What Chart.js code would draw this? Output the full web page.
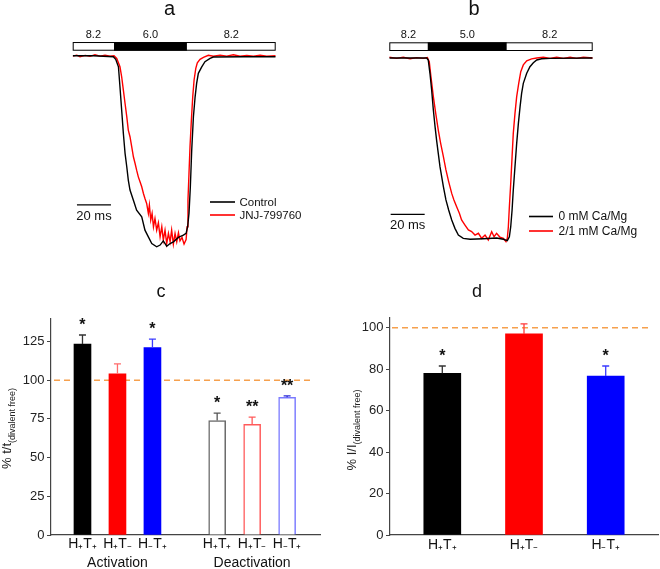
<!DOCTYPE html>
<html>
<head>
<meta charset="utf-8">
<script src="https://cdn.jsdelivr.net/npm/chart.js@4.4.1/dist/chart.umd.min.js"></script>
<style>
html, body { margin: 0; padding: 0; background: #fff; }
body { width: 660px; height: 569px; position: relative; overflow: hidden; }
canvas { position: absolute; }
</style>
</head>
<body>
<canvas id="pa" width="330" height="262" style="left:0;top:0;width:330px;height:262px"></canvas>
<canvas id="pb" width="330" height="262" style="left:330px;top:0;width:330px;height:262px"></canvas>
<canvas id="pc" width="330" height="299" style="left:0;top:270px;width:330px;height:299px"></canvas>
<canvas id="pd" width="330" height="299" style="left:330px;top:270px;width:330px;height:299px"></canvas>
<script>
// ================= DATA =================
// Panel a : pH 8.2 -> 6.0 -> 8.2 (time in ms, current in % of peak)
const ctlTimeA = [0, 12.2, 23.9, 25.3, 26.9, 27.8, 28.8, 29.8, 30.8, 31.8, 32.7, 33.7, 35.7, 37.6, 40.6, 42.5, 44.5, 46.5, 49.4, 51.4, 53.3, 55.3, 57.3, 59.2, 62.2, 65.1, 66.7, 67.6, 68.4, 69.2, 70.0, 71.0, 72.0, 72.9, 73.9, 75.9, 77.8, 80.8, 82.7, 100.4, 119.4];
const ctlCurA  = [0, 0, -0.5, -1.9, -5.8, -16.2, -28.4, -40.7, -51.1, -58.1, -65.1, -70.3, -75.6, -80.8, -84.3, -91.3, -94.8, -98.3, -100, -99.1, -96.9, -99.7, -98.3, -97.4, -95.1, -93.9, -93.0, -89.5, -82.5, -68.6, -49.4, -31.9, -21.5, -14.5, -9.2, -5.8, -3.1, -1.4, -0.7, -0.5, -0.5];
const jnjTimeA = [0, 2.4, 4.3, 7.3, 10.2, 13.1, 16.1, 19.0, 22.0, 24.3, 25.9, 27.8, 28.8, 29.8, 30.8, 31.8, 32.7, 33.7, 34.7, 35.7, 36.7, 37.6, 38.6, 39.6, 40.6, 41.6, 42.5, 43.5, 44.5, 45.1, 45.9, 46.7, 47.5, 48.4, 49.4, 50.4, 51.4, 52.4, 53.3, 54.3, 55.3, 56.3, 57.3, 58.2, 59.2, 60.2, 61.2, 62.2, 63.1, 64.3, 65.5, 66.7, 67.3, 67.8, 68.4, 69.0, 69.8, 70.6, 71.4, 72.4, 73.3, 74.9, 76.9, 79.8, 82.7, 86.7, 90.6, 94.5, 98.4, 102.4, 106.3, 110.2, 114.1, 119.4];
const jnjCurA  = [-0.2, 0.3, -0.5, 0.2, -0.3, 0.5, -0.2, 0.3, -0.3, 0, -1.4, -5.8, -11.0, -18.0, -25.0, -31.9, -38.9, -42.4, -47.6, -52.9, -56.4, -59.9, -63.4, -66.0, -68.6, -72.1, -74.7, -77.3, -82.5, -78.2, -86.0, -82.5, -89.5, -85.2, -91.3, -87.4, -94.8, -89.5, -96.5, -91.3, -98.3, -93.0, -97.4, -91.3, -98.6, -93.0, -97.4, -92.7, -96.9, -95.1, -98.6, -96.2, -89.5, -75.6, -61.6, -47.6, -33.7, -21.5, -12.7, -6.6, -3.7, -1.9, -0.9, 0.2, -0.3, 0.3, -0.2, 0.5, -0.3, 0.2, -0.2, 0.3, -0.3, 0];
const solutionLabelsA = ['8.2', '6.0', '8.2'];
const solutionSwitchA = [0, 24.3, 67.2, 119.4];
const seriesNamesA = ['Control', 'JNJ-799760'];

// Panel b : pH 8.2 -> 5.0 -> 8.2
const ctlTimeB = [0, 22.0, 22.9, 23.9, 24.9, 25.9, 26.9, 27.8, 28.8, 29.8, 30.8, 31.8, 33.3, 34.9, 36.7, 38.6, 40.6, 43.5, 47.5, 55.3, 63.1, 67.1, 69.4, 70.6, 71.4, 72.2, 72.9, 73.9, 74.9, 75.9, 76.9, 77.8, 78.8, 80.8, 82.7, 84.7, 86.7, 89.6, 94.5, 119.6];
const ctlCurB  = [0, 0, -1.1, -8.4, -17.6, -28.6, -37.7, -45.1, -52.4, -59.7, -65.2, -70.7, -78.0, -83.5, -89.0, -93.6, -97.3, -99.1, -99.6, -99.3, -98.9, -99.6, -100.4, -98.2, -92.7, -83.5, -72.5, -59.7, -46.9, -35.9, -26.7, -19.4, -13.9, -8.4, -4.8, -2.6, -1.1, -0.4, -0.2, 0];
const caTimeB = [0, 4.3, 8.2, 12.2, 16.1, 20.0, 22.4, 23.5, 24.5, 25.9, 27.3, 28.8, 30.2, 31.8, 33.3, 34.9, 36.7, 38.0, 39.6, 41.2, 42.5, 44.5, 46.5, 48.4, 50.4, 52.4, 54.3, 56.3, 58.2, 60.2, 61.6, 63.1, 65.1, 67.1, 68.6, 69.4, 70.0, 70.6, 71.4, 72.2, 72.9, 73.9, 74.9, 76.1, 77.3, 78.8, 80.8, 83.7, 86.7, 90.6, 94.5, 98.4, 102.4, 106.3, 110.2, 114.1, 119.6];
const caCurB  = [0.4, -0.2, 0.4, -0.4, 0.2, -0.2, 0.2, -2.0, -10.3, -21.2, -30.4, -39.6, -46.9, -54.2, -61.5, -67.9, -74.4, -78.0, -81.7, -85.3, -89.0, -91.8, -94.5, -95.4, -97.3, -96.3, -99.1, -97.3, -100.0, -95.4, -98.2, -96.3, -98.5, -99.1, -100.9, -99.1, -92.7, -81.7, -68.9, -54.2, -41.4, -30.4, -21.2, -13.9, -7.5, -3.8, -1.6, -0.5, 0, 0.5, -0.2, 0.4, -0.2, 0.4, -0.2, 0.4, 0];
const solutionLabelsB = ['8.2', '5.0', '8.2'];
const solutionSwitchB = [0, 22.6, 69.1, 119.6];
const seriesNamesB = ['0 mM Ca/Mg', '2/1 mM Ca/Mg'];
const scaleBarMs = 20;

// Panel c : % t / t(divalent free)
const conditionLabels = ['H\u208AT\u208A', 'H\u208AT\u208B', 'H\u208BT\u208A'];
const groupNames = ['Activation', 'Deactivation'];
const activationMean = [123.4, 104.1, 121.1];
const activationSem  = [5.8, 6.5, 5.5];
const activationSig  = ['*', '', '*'];
const deactivationMean = [74.0, 71.5, 89.0];
const deactivationSem  = [4.7, 4.7, 0.9];
const deactivationSig  = ['*', '**', '**'];
const yTicksC = [0, 25, 50, 75, 100, 125];

// Panel d : % I / I(divalent free)
const amplitudeMean = [78.0, 97.0, 76.7];
const amplitudeSem  = [3.5, 4.8, 4.8];
const amplitudeSig  = ['*', '', '*'];
const yTicksD = [0, 20, 40, 60, 80, 100];
const referenceLevel = 100;

// ================= STYLE / HELPERS =================
const FF = "'Liberation Sans', Arial, Helvetica, sans-serif";
Chart.defaults.font.family = FF;
Chart.defaults.color = '#222';

const xy = (t, v) => t.map((x, i) => ({ x: x, y: v[i] }));

const panelText = {
  id: 'panelText',
  afterDraw(chart, args, o) {
    const ctx = chart.ctx;
    ctx.save();
    (o.items || []).forEach(it => {
      ctx.font = it.size + 'px ' + FF;
      ctx.fillStyle = '#111';
      ctx.textAlign = 'center';
      ctx.textBaseline = 'alphabetic';
      ctx.fillText(it.text, it.x, it.y);
    });
    if (o.axisTitle) {
      const a = o.axisTitle;
      ctx.font = a.size + 'px ' + FF;
      const w1 = ctx.measureText(a.main).width;
      ctx.font = a.subSize + 'px ' + FF;
      const w2 = ctx.measureText(a.sub).width;
      ctx.translate(a.x, a.yCenter + (w1 + w2) / 2);
      ctx.rotate(-Math.PI / 2);
      ctx.textAlign = 'left';
      ctx.textBaseline = 'alphabetic';
      ctx.fillStyle = '#222';
      ctx.font = a.size + 'px ' + FF;
      ctx.fillText(a.main, 0, 0);
      ctx.font = a.subSize + 'px ' + FF;
      ctx.fillText(a.sub, w1, a.subShift);
    }
    ctx.restore();
  }
};

const traceExtras = {
  id: 'traceExtras',
  afterDatasetsDraw(chart, args, o) {
    const ctx = chart.ctx, xs = chart.scales.x, ys = chart.scales.y;
    const base = ys.getPixelForValue(0);
    const top = base - o.barTop, bot = base - o.barBottom;
    ctx.save();
    // solution exchange bar
    for (let i = 0; i < o.labels.length; i++) {
      const x1 = xs.getPixelForValue(o.switches[i]);
      const x2 = xs.getPixelForValue(o.switches[i + 1]);
      ctx.fillStyle = (i === 1) ? '#000' : '#fff';
      ctx.fillRect(x1, top, x2 - x1, bot - top);
      ctx.fillStyle = '#111';
      ctx.font = '11px ' + FF;
      ctx.textAlign = 'center';
      ctx.textBaseline = 'alphabetic';
      ctx.fillText(o.labels[i], (x1 + x2) / 2, base - o.labelOffset);
    }
    const xa = xs.getPixelForValue(o.switches[0]);
    const xb = xs.getPixelForValue(o.switches[o.switches.length - 1]);
    ctx.strokeStyle = '#000';
    ctx.lineWidth = 1;
    ctx.strokeRect(xa + 0.5, top + 0.5, xb - xa - 1, bot - top - 1);
    // time scale bar
    const s1 = xs.getPixelForValue(o.scaleT0), s2 = xs.getPixelForValue(o.scaleT0 + scaleBarMs);
    const sy = ys.getPixelForValue(o.scaleV);
    ctx.lineWidth = 1.3;
    ctx.beginPath(); ctx.moveTo(s1, sy); ctx.lineTo(s2, sy); ctx.stroke();
    ctx.font = '13px ' + FF;
    ctx.fillText(scaleBarMs + ' ms', (s1 + s2) / 2, sy + 15);
    // legend
    chart.data.datasets.forEach((ds, i) => {
      const ly = o.legend.ys[i];
      ctx.strokeStyle = ds.borderColor;
      ctx.lineWidth = 1.6;
      ctx.beginPath(); ctx.moveTo(o.legend.x1, ly); ctx.lineTo(o.legend.x2, ly); ctx.stroke();
      ctx.fillStyle = '#111';
      ctx.font = o.legend.size + 'px ' + FF;
      ctx.textAlign = 'left';
      ctx.textBaseline = 'middle';
      ctx.fillText(ds.label, o.legend.tx, ly + 0.5);
    });
    ctx.restore();
  }
};

const barExtras = {
  id: 'barExtras',
  beforeDatasetsDraw(chart, args, o) {
    const { ctx, chartArea, scales: { y } } = chart;
    const yy = y.getPixelForValue(referenceLevel);
    ctx.save();
    ctx.setLineDash([6, 4]);
    ctx.strokeStyle = '#f6a04d';
    ctx.lineWidth = 1.5;
    ctx.beginPath();
    ctx.moveTo(chartArea.left + o.refStart, yy);
    ctx.lineTo(chartArea.right - o.refEnd, yy);
    ctx.stroke();
    ctx.restore();
  },
  afterDatasetsDraw(chart, args, o) {
    const { ctx, scales: { y } } = chart;
    const meta = chart.getDatasetMeta(0);
    const ds = chart.data.datasets[0];
    ctx.save();
    meta.data.forEach((el, i) => {
      const m = ds.data[i].y, s = o.sem[i];
      const yT = y.getPixelForValue(m + s);
      ctx.strokeStyle = o.errColors[i];
      ctx.lineWidth = 1.3;
      ctx.beginPath();
      ctx.moveTo(el.x, el.y); ctx.lineTo(el.x, yT);
      ctx.moveTo(el.x - 3.5, yT); ctx.lineTo(el.x + 3.5, yT);
      ctx.stroke();
      if (o.sig[i]) {
        ctx.fillStyle = '#111';
        ctx.font = 'bold 16px ' + FF;
        ctx.textAlign = 'center';
        ctx.textBaseline = 'alphabetic';
        ctx.fillText(o.sig[i], el.x, yT - 14 + 9);
      }
    });
    ctx.restore();
  }
};

const common = {
  responsive: false,
  animation: false,
  devicePixelRatio: 1,
  events: []
};

// ================= PANEL a =================
new Chart(document.getElementById('pa'), {
  type: 'line',
  data: {
    datasets: [
      { label: seriesNamesA[0], data: xy(ctlTimeA, ctlCurA), borderColor: '#000', borderWidth: 1.4, pointRadius: 0, tension: 0 },
      { label: seriesNamesA[1], data: xy(jnjTimeA, jnjCurA), borderColor: '#ff0000', borderWidth: 1.4, pointRadius: 0, tension: 0 }
    ]
  },
  options: Object.assign({}, common, {
    layout: { padding: { left: 72.7, right: 54.3, top: 20, bottom: 7 } },
    scales: {
      x: { type: 'linear', min: 0, max: 119.4, display: false },
      y: { type: 'linear', min: -104.3, max: 18.7, display: false }
    },
    plugins: {
      legend: { display: false }, tooltip: { enabled: false },
      traceExtras: {
        labels: solutionLabelsA, switches: solutionSwitchA,
        barTop: 13.7, barBottom: 5, labelOffset: 17.4,
        scaleT0: 2.5, scaleV: -78.1,
        legend: { x1: 210, x2: 235, tx: 239.5, ys: [202, 215], size: 11.5 }
      },
      panelText: { items: [{ text: 'a', x: 169.5, y: 15, size: 20 }] }
    }
  }),
  plugins: [traceExtras, panelText]
});

// ================= PANEL b =================
new Chart(document.getElementById('pb'), {
  type: 'line',
  data: {
    datasets: [
      { label: seriesNamesB[0], data: xy(ctlTimeB, ctlCurB), borderColor: '#000', borderWidth: 1.4, pointRadius: 0, tension: 0 },
      { label: seriesNamesB[1], data: xy(caTimeB, caCurB), borderColor: '#ff0000', borderWidth: 1.4, pointRadius: 0, tension: 0 }
    ]
  },
  options: Object.assign({}, common, {
    layout: { padding: { left: 59.3, right: 67.3, top: 20, bottom: 7 } },
    scales: {
      x: { type: 'linear', min: 0, max: 119.6, display: false },
      y: { type: 'linear', min: -108.24, max: 20.88, display: false }
    },
    plugins: {
      legend: { display: false }, tooltip: { enabled: false },
      traceExtras: {
        labels: solutionLabelsB, switches: solutionSwitchB,
        barTop: 15.7, barBottom: 7, labelOffset: 19.7,
        scaleT0: 0.8, scaleV: -85.9,
        legend: { x1: 199, x2: 223, tx: 228.5, ys: [216.5, 231], size: 12 }
      },
      panelText: { items: [{ text: 'b', x: 144, y: 15, size: 20 }] }
    }
  }),
  plugins: [traceExtras, panelText]
});

// ================= PANEL c =================
const posC = [], valC = [], semC = [], sigC = [], labC = [];
groupNames.forEach((g, gi) => {
  const means = gi === 0 ? activationMean : deactivationMean;
  const sems = gi === 0 ? activationSem : deactivationSem;
  const sigs = gi === 0 ? activationSig : deactivationSig;
  conditionLabels.forEach((c, ci) => {
    posC.push(1 + gi * 3.85 + ci);
    valC.push(means[ci]);
    semC.push(sems[ci]);
    sigC.push(sigs[ci]);
    labC.push(ci === 1 ? [c, g] : c);
  });
});

new Chart(document.getElementById('pc'), {
  type: 'bar',
  data: {
    datasets: [{
      data: xy(posC, valC),
      backgroundColor: ['#000', '#ff0000', '#0000ff', '#fff', '#fff', '#fff'],
      borderColor: ['#000', '#ff0000', '#0000ff', '#6a6a6a', '#ff5a5a', '#7a7aff'],
      borderWidth: [0, 0, 0, 1.5, 1.5, 1.5],
      barThickness: 17
    }]
  },
  options: Object.assign({}, common, {
    layout: { padding: { left: 0, right: 10, top: 48.3, bottom: 0 } },
    scales: {
      x: {
        type: 'linear', min: 0.1, max: 7.79, offset: false,
        grid: { display: false, drawTicks: false },
        border: { display: true, color: '#444', width: 1.2 },
        afterBuildTicks: s => { s.ticks = posC.map(v => ({ value: v })); },
        afterFit: s => { s.height = 34; },
        ticks: { autoSkip: false, maxRotation: 0, minRotation: 0, padding: 0, color: '#111',
          font: { size: 14, lineHeight: 1.36 }, callback: (v, i) => labC[i] }
      },
      y: {
        type: 'linear', min: 0, max: 140,
        afterBuildTicks: s => { s.ticks = yTicksC.map(v => ({ value: v })); },
        afterFit: s => { s.width = 51; },
        grid: { display: true, drawOnChartArea: false, drawTicks: true, tickLength: 4, color: '#444', tickColor: '#444' },
        border: { display: true, color: '#444', width: 1.2 },
        ticks: { padding: 2.5, color: '#222', font: { size: 13 } }
      }
    },
    plugins: {
      legend: { display: false }, tooltip: { enabled: false },
      barExtras: { sem: semC, sig: sigC, refStart: 3, refEnd: 7,
        errColors: ['#333', '#ff6b6b', '#3b3bff', '#555', '#ff5a5a', '#2b2bd8'] },
      panelText: {
        items: [{ text: 'c', x: 161, y: 26.7, size: 18 }],
        axisTitle: { main: '% t/t', sub: '(divalent free)', size: 13, subSize: 9, x: 11, yCenter: 158.5, subShift: 3.5 }
      }
    }
  }),
  plugins: [barExtras, panelText]
});

// ================= PANEL d =================
const posD = conditionLabels.map((c, i) => i + 1);
new Chart(document.getElementById('pd'), {
  type: 'bar',
  data: {
    datasets: [{
      data: xy(posD, amplitudeMean),
      backgroundColor: ['#000', '#ff0000', '#0000ff'],
      borderWidth: 0,
      barThickness: 37
    }]
  },
  options: Object.assign({}, common, {
    layout: { padding: { left: 0, right: 2, top: 47.3, bottom: 0 } },
    scales: {
      x: {
        type: 'linear', min: 0.36, max: 3.64, offset: false,
        grid: { display: false, drawTicks: false },
        border: { display: true, color: '#444', width: 1.2 },
        afterBuildTicks: s => { s.ticks = posD.map(v => ({ value: v })); },
        afterFit: s => { s.height = 34; },
        ticks: { autoSkip: false, maxRotation: 0, minRotation: 0, padding: 2, color: '#111',
          font: { size: 14 }, callback: (v, i) => conditionLabels[i] }
      },
      y: {
        type: 'linear', min: 0, max: 105,
        afterBuildTicks: s => { s.ticks = yTicksD.map(v => ({ value: v })); },
        afterFit: s => { s.width = 60; },
        grid: { display: true, drawOnChartArea: false, drawTicks: true, tickLength: 4, color: '#444', tickColor: '#444' },
        border: { display: true, color: '#444', width: 1.2 },
        ticks: { padding: 2.5, color: '#222', font: { size: 13 } }
      }
    },
    plugins: {
      legend: { display: false }, tooltip: { enabled: false },
      barExtras: { sem: amplitudeSem, sig: amplitudeSig, refStart: 2, refEnd: 8,
        errColors: ['#333', '#ff3b3b', '#3a3aff'] },
      panelText: {
        items: [{ text: 'd', x: 147, y: 26.7, size: 18 }],
        axisTitle: { main: '% I/I', sub: '(divalent free)', size: 13, subSize: 9, x: 26, yCenter: 160, subShift: 3.5 }
      }
    }
  }),
  plugins: [barExtras, panelText]
});
</script>
</body>
</html>
